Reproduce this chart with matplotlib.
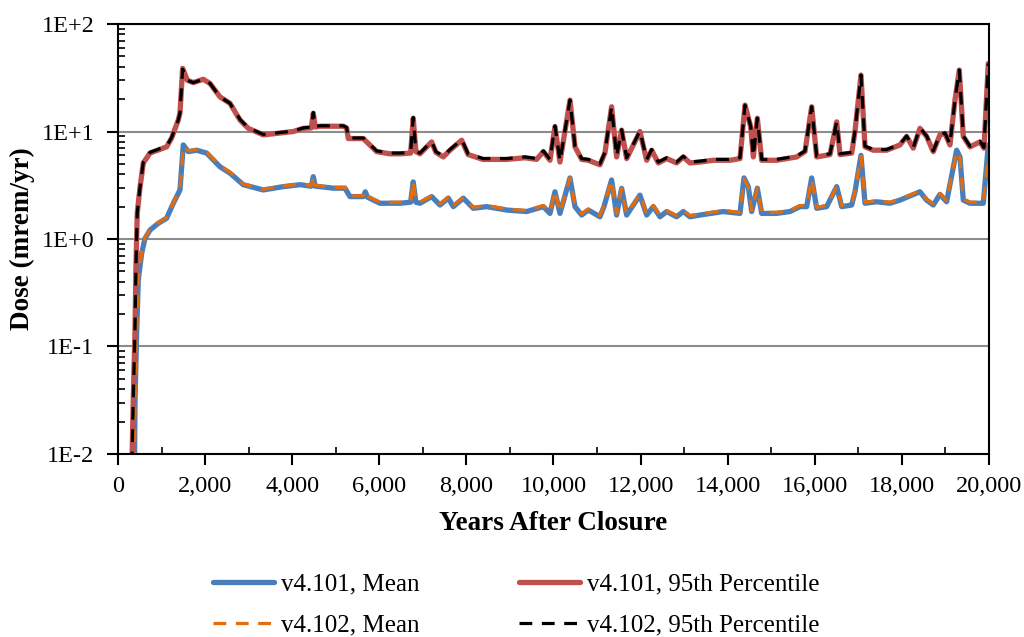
import matplotlib
matplotlib.use("Agg")
from matplotlib import pyplot as plt
from matplotlib.ticker import FixedLocator, FixedFormatter, NullFormatter
import numpy as np

plt.rcParams['font.family'] = ['Liberation Serif', 'DejaVu Serif']

# 95th percentile, v4.101
yrs_95 = [321, 351, 390, 413, 443, 505, 582, 735, 1117, 1232, 1385, 1424, 1485, 1592,
          1729, 1959, 2113, 2342, 2572, 2801, 2992, 3337, 3643, 4025, 4255, 4440, 4485,
          4530, 4638, 5173, 5250, 5288, 5633, 5940, 6245, 6475, 6720, 6780, 6840, 6934,
          7203, 7300, 7470, 7624, 7892, 8040, 8384, 8925, 9346, 9614, 9767, 9920, 10034,
          10149, 10379, 10494, 10647, 10800, 11067, 11181, 11335, 11450, 11565, 11680,
          11985, 12140, 12255, 12407, 12599, 12828, 12981, 13134, 13364, 13670, 14053,
          14283, 14398, 14528, 14589, 14681, 14781, 15125, 15585, 15775, 15929, 16044,
          16350, 16503, 16580, 16848, 16923, 17061, 17153, 17343, 17650, 17956, 18109,
          18262, 18415, 18568, 18721, 18874, 18989, 19104, 19219, 19318, 19410, 19564,
          19793, 19885, 19984]
p95_101 = [0.008, 0.032, 0.133, 0.55, 1.75, 3.0, 5.1, 6.3, 7.2, 8.7, 12.8, 14.9, 38.7, 30,
           28.5, 30.6, 28, 21, 18.3, 12.8, 10.7, 9.3, 9.6, 10, 10.7, 10.8, 14.8,
           11.0, 11.2, 11.2, 10.8, 8.6, 8.6, 6.5, 6.2, 6.2, 6.3, 13.3, 6.5, 6.2,
           8.0, 6.4, 5.8, 6.7, 8.3, 6.1, 5.5, 5.5, 5.7, 5.5, 6.5, 5.4, 11.1,
           5.2, 19.6, 7.2, 5.5, 5.4, 4.9, 6.3, 17.0, 5.8, 10.3, 5.6,
           10.0, 5.4, 6.7, 5.1, 5.6, 5.1, 5.8, 5.1, 5.2, 5.4, 5.4,
           5.6, 17.6, 11.1, 5.8, 13.3, 5.4, 5.4, 5.8, 6.5, 17.0, 5.8,
           6.1, 12.3, 6.1, 6.3, 10.0, 33.5, 7.2, 6.7, 6.7, 7.5, 9.0,
           7.0, 10.7, 9.0, 6.5, 9.3, 9.6, 7.5, 19.6, 37.3, 9.0, 7.2,
           8.0, 7.0, 43]
# 95th percentile, v4.102
p95_102 = [0.008, 0.032, 0.133, 0.55, 1.75, 3.0, 5.2, 6.4, 7.3, 8.8, 12.8, 14.9, 38.0, 30,
           28.5, 30.6, 28, 21, 18.3, 13.0, 10.8, 9.4, 9.7, 10.1, 10.8, 11.0, 15.0,
           11.2, 11.3, 11.3, 10.9, 8.7, 8.7, 6.6, 6.3, 6.3, 6.4, 13.5, 6.6, 6.3,
           8.1, 6.5, 5.9, 6.8, 8.4, 6.2, 5.6, 5.6, 5.8, 5.6, 6.6, 5.5, 11.3,
           5.3, 19.6, 7.3, 5.6, 5.5, 5.0, 6.4, 17.0, 5.9, 10.4, 5.7,
           10.1, 5.5, 6.8, 5.2, 5.7, 5.2, 5.9, 5.2, 5.3, 5.5, 5.5,
           5.7, 17.6, 11.2, 5.9, 13.3, 5.5, 5.5, 5.9, 6.6, 17.0, 5.9,
           6.2, 12.3, 6.2, 6.4, 10.1, 33.5, 7.3, 6.8, 6.8, 7.6, 9.1,
           7.1, 10.8, 9.1, 6.6, 9.4, 9.7, 7.6, 19.6, 37.3, 9.1, 7.3,
           8.1, 7.1, 43]

# mean, v4.101
yrs_mean = [380, 392, 429, 467, 544, 620, 735, 926, 1117, 1271, 1424, 1500, 1615, 1806,
            2036, 2342, 2572, 2877, 3337, 3796, 4179, 4440, 4485, 4530, 4638, 4944, 5212,
            5327, 5633, 5680, 5730, 6016, 6475, 6720, 6780, 6840, 6934, 7203, 7394, 7585,
            7700, 7930, 8159, 8465, 8925, 9384, 9767, 9920, 10034, 10149, 10379, 10494,
            10647, 10800, 11067, 11159, 11335, 11450, 11565, 11680, 11985, 12140, 12292,
            12446, 12599, 12828, 12981, 13134, 13364, 13899, 14283, 14375, 14474, 14551,
            14681, 14781, 15125, 15431, 15660, 15814, 15929, 16044, 16273, 16503, 16618,
            16848, 16923, 17061, 17153, 17420, 17727, 17956, 18415, 18568, 18721, 18874,
            19027, 19257, 19334, 19410, 19564, 19870, 19984]
mean_101 = [0.008, 0.032, 0.133, 0.416, 0.736, 1.01, 1.21, 1.40, 1.56, 2.15, 2.86, 7.5, 6.5, 6.7,
            6.3, 4.7, 4.1, 3.2, 2.86, 3.07, 3.2, 3.1, 3.8, 3.1, 3.07, 2.97, 2.97,
            2.48, 2.48, 2.75, 2.45, 2.15, 2.15, 2.2, 3.4, 2.2, 2.15, 2.48, 2.07, 2.4,
            2.0, 2.4, 1.93, 2.0, 1.86, 1.8, 2.0, 1.73, 2.75, 1.73, 3.7, 2.0,
            1.67, 1.86, 1.61, 2.0, 3.54, 1.67, 2.96, 1.67, 2.56, 1.67, 2.0,
            1.61, 1.8, 1.61, 1.8, 1.61, 1.67, 1.8, 1.73, 3.7, 3.07, 1.8,
            2.97, 1.73, 1.73, 1.8, 2.0, 2.0, 3.7, 1.93, 2.0, 3.07, 2.0,
            2.07, 2.75, 6.0, 2.15, 2.22, 2.15, 2.3, 2.75, 2.3, 2.07, 2.6,
            2.22, 6.7, 5.8, 2.3, 2.15, 2.15, 7.5]
# mean, v4.102
mean_102 = [0.008, 0.032, 0.133, 0.42, 0.75, 1.03, 1.23, 1.42, 1.58, 2.18, 2.9, 7.3, 6.6, 6.8,
            6.4, 4.8, 4.2, 3.25, 2.9, 3.12, 3.25, 3.15, 3.85, 3.15, 3.12, 3.02, 3.02,
            2.52, 2.52, 2.8, 2.5, 2.2, 2.2, 2.25, 3.45, 2.25, 2.2, 2.52, 2.12, 2.45,
            2.05, 2.45, 1.97, 2.05, 1.9, 1.84, 2.05, 1.77, 2.8, 1.77, 3.7, 2.05,
            1.71, 1.9, 1.65, 2.05, 3.54, 1.71, 2.96, 1.71, 2.6, 1.71, 2.05,
            1.65, 1.84, 1.65, 1.84, 1.65, 1.71, 1.84, 1.77, 3.6, 3.07, 1.84,
            2.97, 1.77, 1.77, 1.84, 2.05, 2.05, 3.6, 1.97, 2.05, 3.07, 2.05,
            2.12, 2.75, 5.9, 2.2, 2.27, 2.2, 2.35, 2.8, 2.35, 2.12, 2.65,
            2.27, 6.5, 5.6, 2.35, 2.2, 2.2, 6.0]

x_ticks = [0, 2000, 4000, 6000, 8000, 10000, 12000, 14000, 16000, 18000, 20000]
x_tick_labels = ["0", "2,000", "4,000", "6,000", "8,000", "10,000", "12,000",
                 "14,000", "16,000", "18,000", "20,000"]
y_ticks = [1e-2, 1e-1, 1e0, 1e1, 1e2]
y_tick_labels = ["1E-2", "1E-1", "1E+0", "1E+1", "1E+2"]

c_blue = "#4a7ebb"
c_red = "#c0504d"
c_orange = "#e46c0a"
c_black = "#000000"

fig = plt.figure(figsize=(10.24, 6.37), dpi=100)
ax = fig.add_axes([0.1152, 0.2873, 0.8506, 0.675])

l1, = ax.plot(yrs_mean, mean_101, color=c_blue, linewidth=3.8, solid_joinstyle='round',
              solid_capstyle='round', label="v4.101, Mean")
l3, = ax.plot(yrs_95, p95_101, color=c_red, linewidth=3.8, solid_joinstyle='round',
              solid_capstyle='round', label="v4.101, 95th Percentile")
l2, = ax.plot(yrs_mean, mean_102, color=c_orange, linewidth=2.3, dashes=(4.0, 3.0),
              label="v4.102, Mean")
l4, = ax.plot(yrs_95, p95_102, color=c_black, linewidth=2.3, dashes=(4.0, 3.0),
              label="v4.102, 95th Percentile")

ax.set_yscale("log")
ax.set_xlim(0, 20000)
ax.set_ylim(1e-2, 1e2)

ax.xaxis.set_major_locator(FixedLocator(x_ticks))
ax.xaxis.set_major_formatter(FixedFormatter(x_tick_labels))
ax.xaxis.set_minor_locator(FixedLocator(np.arange(1000, 20000, 2000)))
ax.yaxis.set_major_locator(FixedLocator(y_ticks))
ax.yaxis.set_major_formatter(FixedFormatter(y_tick_labels))
ax.yaxis.set_minor_formatter(NullFormatter())

ax.tick_params(axis='both', which='major', direction='out', length=8, width=1.5,
               labelsize=17.5, colors='black')
ax.tick_params(axis='y', which='major', pad=9)
ax.tick_params(axis='x', which='major', pad=8)
ax.tick_params(axis='both', which='minor', direction='in', length=5, width=1.2)
ax.yaxis.grid(True, which='major', color='#8c8c8c', linewidth=1.5)
ax.set_axisbelow(True)
for sp in ax.spines.values():
    sp.set_linewidth(1.5)
    sp.set_color('black')

ax.set_xlabel("Years After Closure", fontsize=19.5, fontweight='bold', labelpad=10)
ax.set_ylabel("Dose (mrem/yr)", fontsize=19.5, fontweight='bold', labelpad=5)

fig.legend(handles=[l1, l2, l3, l4], loc='upper center', bbox_to_anchor=(0.504, 0.116),
           ncol=2, frameon=False, fontsize=18, handlelength=2.45, handletextpad=0.25,
           columnspacing=4.0, labelspacing=0.74, borderaxespad=0)

fig.savefig("out.png", dpi=100)
